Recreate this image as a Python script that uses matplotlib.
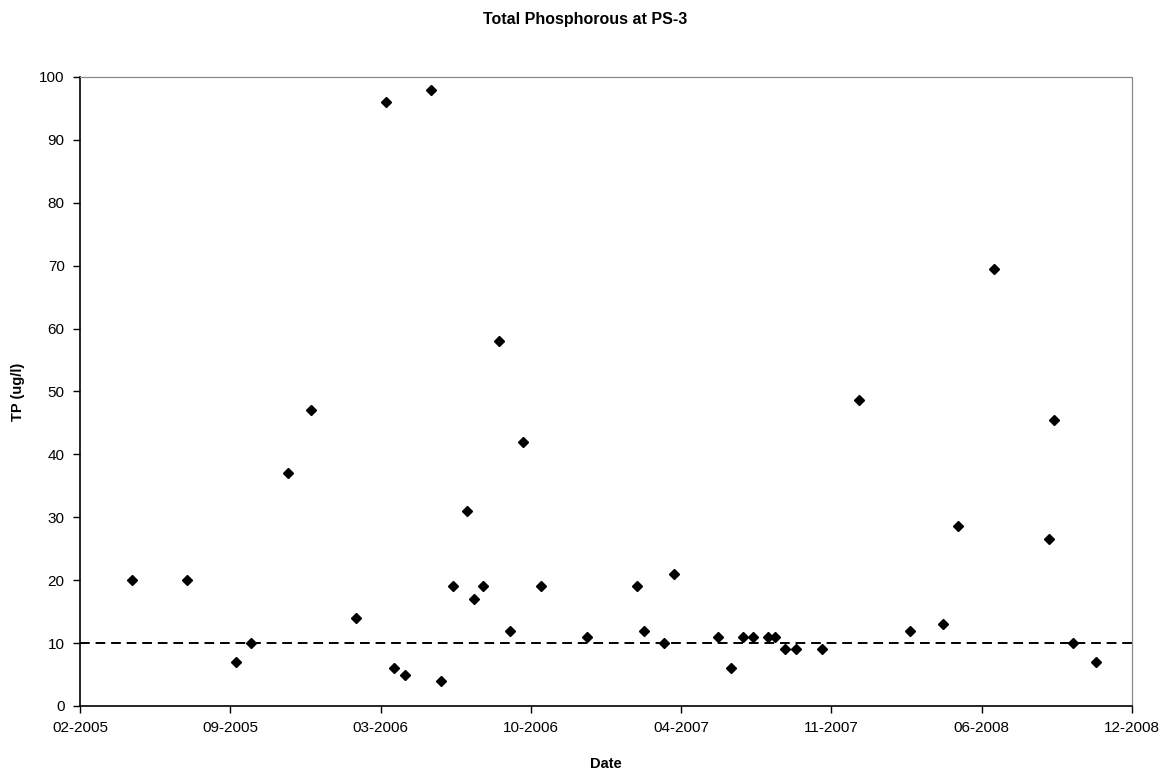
import numpy as np
import matplotlib
matplotlib.use("Agg")
import matplotlib.pyplot as plt
import matplotlib.dates as mdates
import datetime as dt

# sample dates and total phosphorous readings (ug/l) at PS-3
sampleDates = ['2005-04-27', '2005-07-10', '2005-09-12', '2005-10-03', '2005-11-21',
               '2005-12-21', '2006-02-19', '2006-03-31', '2006-04-11', '2006-04-25',
               '2006-05-30', '2006-06-12', '2006-06-28', '2006-07-17', '2006-07-27',
               '2006-08-07', '2006-08-29', '2006-09-12', '2006-09-29', '2006-10-23',
               '2006-12-24', '2007-02-28', '2007-03-09', '2007-04-05', '2007-04-19',
               '2007-06-16', '2007-07-03', '2007-07-19', '2007-08-02', '2007-08-21',
               '2007-08-31', '2007-09-13', '2007-09-28', '2007-11-01', '2007-12-21',
               '2008-02-27', '2008-04-10', '2008-05-01', '2008-06-18', '2008-08-30',
               '2008-09-05', '2008-10-01', '2008-10-31']
tpValues = [20, 20, 7, 10, 37,
            47, 14, 96, 6, 5,
            98, 4, 19, 31, 17,
            19, 58, 12, 42, 19,
            11, 19, 12, 10, 21,
            11, 6, 11, 11, 11,
            11, 9, 9, 9, 48.6,
            12, 13, 28.6, 69.5, 26.5,
            45.5, 10, 7]

# target line
targetTP = 10

# axis range (excel style date axis, major unit of 200 days)
axisStart = '2005-02-17'
axisEnd = '2008-12-18'
majorDays = 200


def toDate(s):
    return dt.datetime.strptime(s, '%Y-%m-%d')


def plotTP():
    plt.rcParams['font.family'] = ['Liberation Sans', 'DejaVu Sans']
    fig = plt.figure(figsize=(11.71, 7.72), dpi=100)
    ax = fig.add_axes([0.0683, 0.0855, 0.8984, 0.8148])

    x = [toDate(d) for d in sampleDates]
    ax.plot(x, tpValues, linestyle='none', marker='D', markersize=5.3,
            color='black', zorder=3)

    # dashed 10 ug/l line across the whole plot
    ax.axhline(targetTP, color='black', linestyle=(0, (5, 3)), linewidth=1.4, zorder=2)

    start, end = toDate(axisStart), toDate(axisEnd)
    ax.set_xlim(start, end)
    ticks = [start + dt.timedelta(days=majorDays * i) for i in range(8)]
    ax.set_xticks(ticks)
    ax.xaxis.set_major_formatter(mdates.DateFormatter('%m-%Y'))

    ax.set_ylim(0, 100)
    ax.set_yticks(np.arange(0, 101, 10))

    ax.tick_params(direction='out', length=5, width=1, labelsize=11, pad=6)
    for side in ['left', 'bottom']:
        ax.spines[side].set_color('black')
        ax.spines[side].set_linewidth(1.2)
    for side in ['top', 'right']:
        ax.spines[side].set_color('#888888')
        ax.spines[side].set_linewidth(0.9)
        ax.spines[side].set_linestyle((0, (1, 1)))

    ax.set_xlabel('Date', fontsize=10.5, fontweight='bold', labelpad=16)
    ax.set_ylabel('TP (ug/l)', fontsize=10.5, fontweight='bold', labelpad=10)
    fig.suptitle('Total Phosphorous at PS-3', fontsize=11.5, fontweight='bold',
                 x=0.5, y=0.984)

    fig.savefig('out.png', dpi=100)
    plt.close(fig)


plotTP()
